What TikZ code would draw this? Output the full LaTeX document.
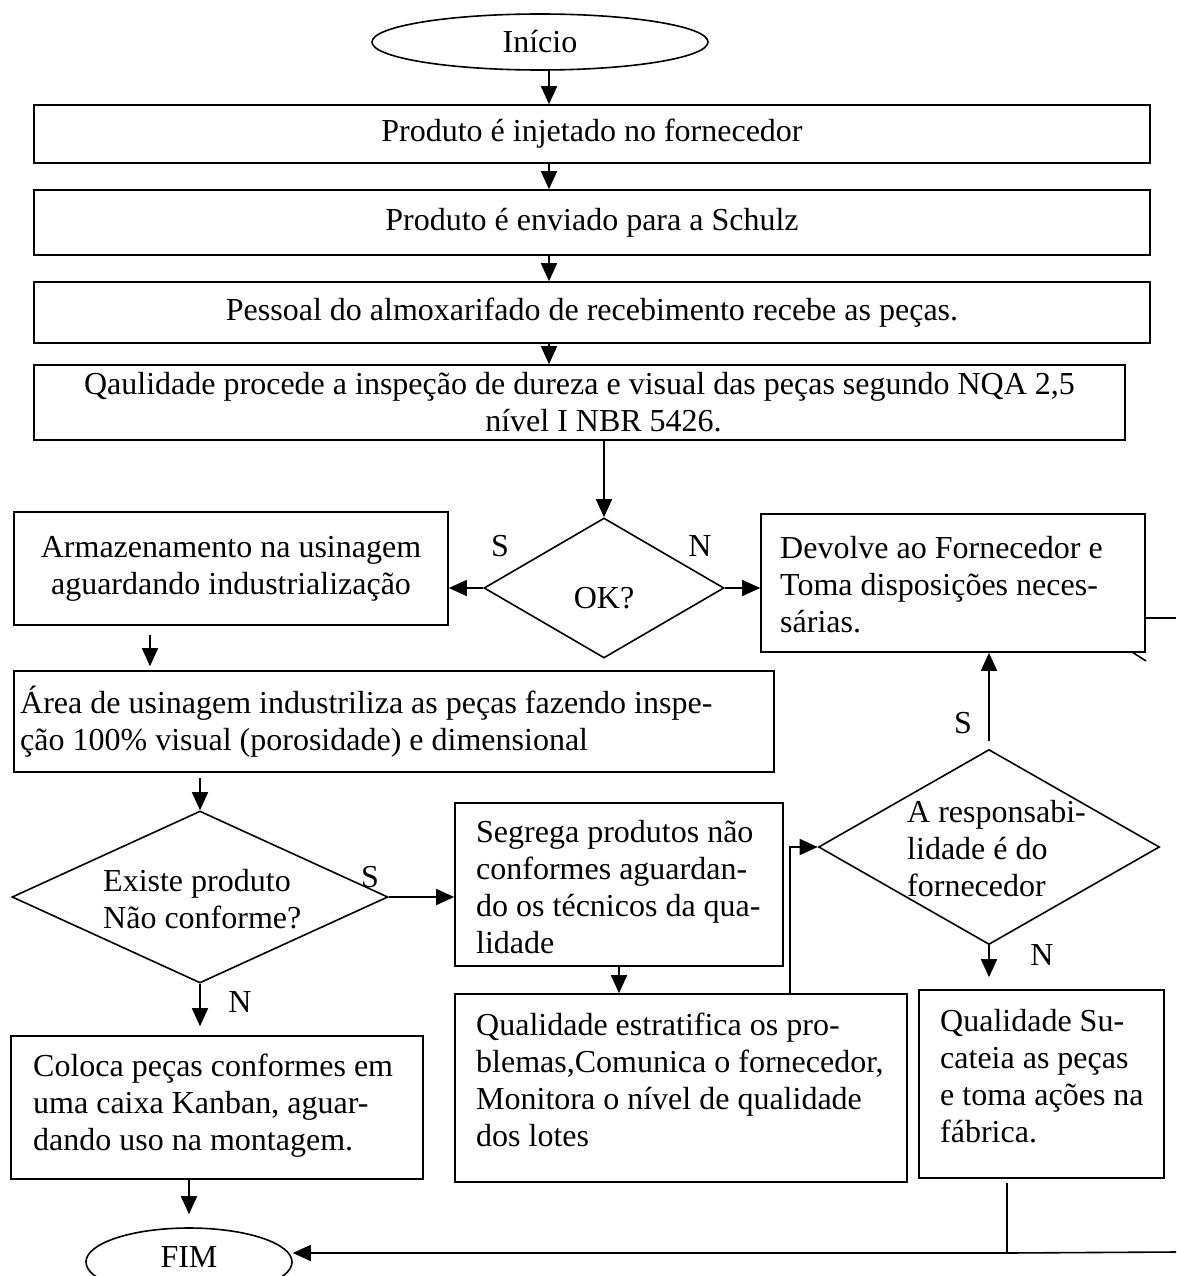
\documentclass[tikz,border=0pt]{standalone}
\usepackage{fontspec}
\setmainfont{Liberation Serif}
\usetikzlibrary{shapes.geometric,arrows.meta,calc}
\begin{document}
\begin{tikzpicture}[x=1pt,y=-1pt,
  every node/.style={font=\fontsize{32}{37}\selectfont},
  stepbox/.style={draw, rectangle, line width=1.6pt, inner sep=0pt},
  decision/.style={draw, diamond, line width=1.6pt, inner sep=0pt},
  terminal/.style={draw, ellipse, line width=1.6pt, inner sep=0pt},
  txt/.style={inner sep=0pt, align=left},
  lbl/.style={inner sep=0pt},
  arr/.style={line width=1.6pt, -{Triangle[length=18pt,width=16pt]}},
  link/.style={line width=1.6pt}]
\useasboundingbox (0,0) rectangle (1176,1276);

% start and the receiving chain
\node[terminal, minimum width=336pt, minimum height=56pt] (inicio) at (540,42) {Início};
\node[stepbox, minimum width=1116pt, minimum height=58pt] (b1) at (592,134) {Produto é injetado no fornecedor};
\node[stepbox, minimum width=1116pt, minimum height=65pt] (b2) at (592,222.5) {Produto é enviado para a Schulz};
\node[stepbox, minimum width=1116pt, minimum height=61pt] (b3) at (592,312.5) {Pessoal do almoxarifado de recebimento recebe as peças.};
\node[stepbox, minimum width=1091pt, minimum height=75pt, align=center] (b4) at (579.5,402.5)
  {Qaulidade procede a inspeção de dureza e visual das peças segundo NQA 2,5\\\hspace*{48pt}nível I NBR 5426.};

\coordinate (spine) at (549,0);
\draw[arr] (spine |- inicio.south) -- (spine |- b1.north);
\draw[arr] (spine |- b1.south) -- (spine |- b2.north);
\draw[arr] (spine |- b2.south) -- (spine |- b3.north);
\draw[arr] (spine |- b3.south) -- (spine |- b4.north);

% inspection decision
\node[decision, minimum width=240pt, minimum height=140pt] (ok) at (604,588) {};
\node[lbl] (ok-t) at (604,598) {OK?};
\node[lbl] (ok-s) at (500,546) {S};
\node[lbl] (ok-n) at (700,546) {N};
\draw[arr] (ok.north |- b4.south) -- (ok.north);

\node[stepbox, minimum width=434pt, minimum height=113pt, align=center] (arm) at (231,568.5)
  {Armazenamento na usinagem\\aguardando industrialização};
\draw[arr] (ok.west) -- (ok.west -| arm.east);

\node[stepbox, minimum width=384pt, minimum height=138pt] (dev) at (953,583) {};
\node[txt, anchor=west] (dev-t) at (780,585) {Devolve ao Fornecedor e\\Toma disposições neces-\\sárias.};
\draw[arr] (ok.east) -- (ok.east -| dev.west);
\coordinate (devR) at (1176,618);
\draw[link] (devR -| dev.east) -- (devR);
\coordinate (tickA) at (1132,652);
\coordinate (tickB) at (1146,661);
\draw[link] (tickA) -- (tickB);

% machining
\node[stepbox, minimum width=760pt, minimum height=101pt] (area) at (394,721.5) {};
\node[txt, anchor=west] (area-t) at (20,722) {Área de usinagem industriliza as peças fazendo inspe-\\ção 100\% visual (porosidade) e dimensional};
\coordinate (armArrow) at (150,0);
\draw[arr, shorten <=9pt, shorten >=4pt] (armArrow |- arm.south) -- (armArrow |- area.north);

% non-conformity decision
\node[decision, minimum width=376pt, minimum height=172pt] (existe) at (200,897) {};
\node[txt, anchor=west] (existe-t) at (103,899.5) {Existe produto\\Não conforme?};
\draw[arr, shorten <=5pt] (existe.north |- area.south) -- (existe.north);
\node[lbl] (existe-s) at (370,877) {S};
\node[lbl] (existe-n) at (240,1002) {N};

\node[stepbox, minimum width=328pt, minimum height=163pt] (seg) at (619,884.5) {};
\node[txt, anchor=west] (seg-t) at (476,887.5) {Segrega produtos não\\conformes aguardan-\\do os técnicos da qua-\\lidade};
\draw[arr] (existe.east) -- (existe.east -| seg.west);

\node[stepbox, minimum width=452pt, minimum height=188pt] (estr) at (681,1088) {};
\node[txt, anchor=west] (estr-t) at (476,1080) {Qualidade estratifica os pro-\\blemas,Comunica o fornecedor,\\Monitora o nível de qualidade\\dos lotes};
\draw[arr] (seg.south) -- (seg.south |- estr.north);

% responsibility decision
\node[decision, minimum width=341pt, minimum height=195pt] (resp) at (989,847) {};
\node[txt, anchor=west] (resp-t) at (907,848.5) {A responsabi-\\lidade é do\\fornecedor};
\coordinate (riser) at (790,0);
\draw[arr] (riser |- estr.north) -- (riser |- resp.west) -- (resp.west);
\node[lbl] (resp-s) at (963,723) {S};
\draw[arr, shorten <=8pt] (resp.north) -- (resp.north |- dev.south);
\node[lbl] (resp-n) at (1042,955) {N};

\node[stepbox, minimum width=245pt, minimum height=188pt] (suc) at (1041.5,1084) {};
\node[txt, anchor=west] (suc-t) at (940,1076) {Qualidade Su-\\cateia as peças\\e toma ações na\\fábrica.};
\draw[arr, shorten >=12pt] (resp.south) -- (resp.south |- suc.north);

% conforming parts and end
\node[stepbox, minimum width=412pt, minimum height=143pt] (coloca) at (217,1107.5) {};
\node[txt, anchor=west] (coloca-t) at (33,1106) {Coloca peças conformes em\\uma caixa Kanban, aguar-\\dando uso na montagem.};
\draw[arr, shorten >=9pt] (existe.south) -- (existe.south |- coloca.north);

\node[terminal, minimum width=206pt, minimum height=68pt] (fim) at (189,1262) {};
\node[lbl] (fim-t) at (189,1257) {FIM};
\draw[arr, shorten >=13pt] (fim.north |- coloca.south) -- (fim.north);

\coordinate (join) at (1007,1253);
\coordinate (rightEdge) at (1176,1252);
\draw[link, shorten <=4pt] (join |- suc.south) -- (join);
\draw[link] (join) -- (rightEdge);
\draw[arr] (join) -- (join -| fim.east);
\end{tikzpicture}
\end{document}
